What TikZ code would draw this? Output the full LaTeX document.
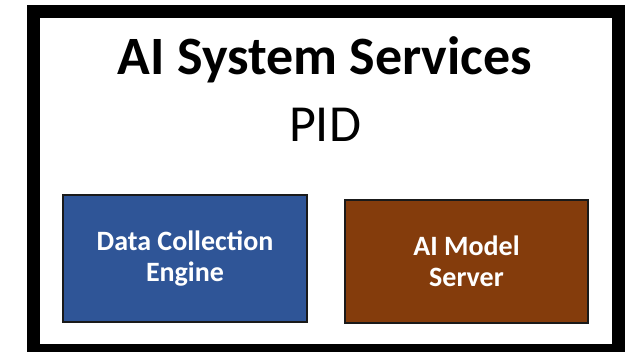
\documentclass[tikz,border=0pt]{standalone}
\usepackage{fontspec}
\setmainfont{Carlito}
\definecolor{boxblue}{HTML}{2F5597}
\definecolor{boxbrown}{HTML}{843C0C}
\definecolor{boxedge}{HTML}{1A1A1A}
\tikzset{
  frame/.style={draw=black, line width=13pt, inner sep=0pt, fill=white},
  svcbox/.style={draw=boxedge, line width=1.5pt, inner sep=0pt, text=white, align=center,
    font=\fontsize{28}{31}\selectfont\bfseries},
  titletext/.style={anchor=base, inner sep=0pt, font=\fontsize{54}{60}\selectfont\bfseries},
  subtext/.style={anchor=base, inner sep=0pt, font=\fontsize{52}{58}\selectfont},
}
\begin{document}
\begin{tikzpicture}[x=1pt, y=-1pt]
\useasboundingbox (0,0) rectangle (629,352);
\clip (0,0) rectangle (629,352);
\fill[white] (0,0) rectangle (629,352);
\node[frame, minimum width=585pt, minimum height=339pt] (sys) at (326,181) {};
\node[titletext] (title) at (325,75) {AI System Services};
\node[subtext] (pid) at (325,141.5) {PID};
\node[svcbox, fill=boxblue, minimum width=244pt, minimum height=127pt] (dce) at (185,258.5) {Data Collection\\Engine};
\node[svcbox, fill=boxbrown, minimum width=243pt, minimum height=123pt] (ams) at (466.5,261.5) {AI Model\\Server};
\end{tikzpicture}
\end{document}
